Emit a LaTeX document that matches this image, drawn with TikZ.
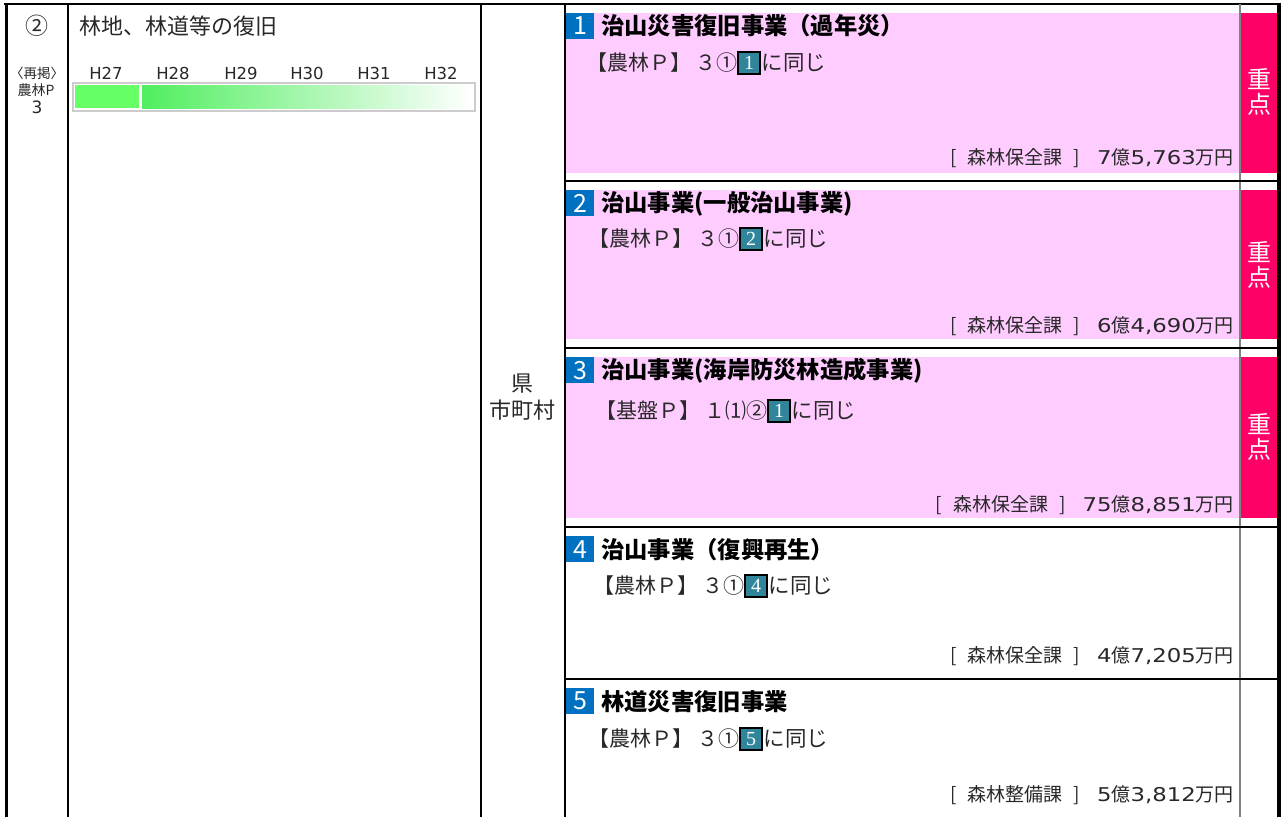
\documentclass[tikz,border=0pt]{standalone}
\usepackage{fontspec}
\usepackage{graphicx}
\setmainfont{Noto Sans CJK JP}
\newfontfamily\serifnum{Liberation Serif}
\newfontfamily\widesans{DejaVu Sans}
\newcommand\wdig[1]{\scalebox{1.2}[1]{\widesans #1}}
\definecolor{pinkbg}{RGB}{255,204,255}
\definecolor{redtab}{RGB}{255,0,102}
\definecolor{badgeblue}{RGB}{0,112,192}
\definecolor{boxteal}{RGB}{49,133,155}
\definecolor{barfill}{RGB}{102,255,102}
\definecolor{gradstart}{RGB}{80,238,95}
\definecolor{bodygray}{RGB}{40,40,40}
\definecolor{framegray}{RGB}{204,204,204}
\definecolor{tabline}{RGB}{130,130,130}
\tikzset{
  badge/.style={fill=badgeblue,text=white,minimum width=28pt,minimum height=26pt,inner sep=0pt,font=\fontsize{25}{25}\selectfont},
  titletext/.style={anchor=west,inner sep=0pt,font=\fontsize{23.3}{24}\selectfont\bfseries,text=black},
  bodytext/.style={anchor=east,inner sep=0pt,font=\fontsize{21}{21}\selectfont,text=bodygray},
  bodytail/.style={anchor=west,inner sep=0pt,font=\fontsize{21.5}{22}\selectfont,text=bodygray},
  refbox/.style={fill=boxteal,draw=black,line width=1.5pt,text=white,minimum width=22pt,minimum height=22pt,inner sep=0pt,font=\serifnum\fontsize{20}{20}\selectfont},
  costtext/.style={anchor=east,inner sep=0pt,font=\fontsize{19}{19}\selectfont,text=bodygray},
  tabchar/.style={inner sep=0pt,text=white,font=\fontsize{24}{24}\selectfont},
  yearlbl/.style={inner sep=0pt,font=\widesans\fontsize{16.5}{16.5}\selectfont,text=bodygray},
  smalltext/.style={inner sep=0pt,font=\fontsize{13.5}{14}\selectfont,text=bodygray},
  bigtext/.style={inner sep=0pt,font=\fontsize{22}{22}\selectfont,text=bodygray},
  rule/.style={line width=1.3pt,draw=black},
}
\newcommand\costline[2]{[\hspace{11pt}#1\hspace{11pt}]\hspace{17pt}#2}
\begin{document}
\begin{tikzpicture}[x=1pt,y=-1pt]
\useasboundingbox (0,0) rectangle (1284,817);
\fill[white] (0,0) rectangle (1284,817);

% pink and red backgrounds
\fill[pinkbg] (565,12.7) rectangle (1240,173);
\fill[redtab] (1241,12.7) rectangle (1277,173);
\fill[pinkbg] (565,190) rectangle (1240,339);
\fill[redtab] (1241,190) rectangle (1277,339);
\fill[pinkbg] (565,357) rectangle (1240,518);
\fill[redtab] (1241,357) rectangle (1277,518);

% frame lines
\draw[line width=2pt] (4,3.5) -- (1281,3.5);
\draw[line width=3pt] (6,3) -- (6,817);
\draw[line width=4pt] (1279,3) -- (1279,817);
\draw[line width=1.2pt] (68,3.5) -- (68,817);
\draw[line width=1.2pt] (481,3.5) -- (481,817);
\draw[line width=1.2pt] (565,3.5) -- (565,817);
\draw[line width=1.5pt,tabline] (1240,3.5) -- (1240,817);
\foreach \yy in {181,348,527,679} {
  \draw[rule] (565,\yy) -- (1277,\yy);
}

% left column
\node[inner sep=0pt,font=\fontsize{23}{23}\selectfont,text=bodygray] (num) at (37,26) {②};
\node[smalltext] (saikei) at (37,73) {〈再掲〉};
\node[smalltext,font=\fontsize{14}{14}\selectfont] (nourin) at (36,90) {農林P};
\node[smalltext,font=\widesans\fontsize{17}{17}\selectfont] (three) at (37,107) {3};

% second column
\node[anchor=west,inner sep=0pt,font=\fontsize{22}{22}\selectfont,text=bodygray] (maintitle) at (79,26) {林地、林道等の復旧};
\node[yearlbl] (h27) at (106,73) {H27};
\node[yearlbl] (h28) at (173,73) {H28};
\node[yearlbl] (h29) at (241,73) {H29};
\node[yearlbl] (h30) at (307,73) {H30};
\node[yearlbl] (h31) at (374,73) {H31};
\node[yearlbl] (h32) at (441,73) {H32};
\draw[framegray,line width=2pt,fill=white] (72.5,82.5) rectangle (474.5,110.5);
\fill[barfill] (75,85) rectangle (139,108);
\shade[left color=gradstart,right color=white] (142,85) rectangle (472,108);

% third column
\node[bigtext] (ken) at (522,384) {県};
\node[bigtext] (shichoson) at (522,410) {市町村};

% row 1
\node[badge,anchor=north west] (b1) at (566,12.7) {1};
\node[titletext] (t1) at (601,26) {治山災害復旧事業（過年災）};
\node[refbox] (r1) at (749,63) {1};
\node[bodytext] (p1) at (r1.west) {【農林Ｐ】\hspace{4pt}３①};
\node[bodytail] (q1) at ([xshift=1pt]r1.east) {に同じ};
\node[costtext] (c1) at (1234,158) {\costline{森林保全課}{\wdig{7}億\wdig{5,763}万円}};
\node[tabchar] (k1a) at (1259,79) {重};
\node[tabchar] (k1b) at (1259,104) {点};

% row 2
\node[badge,anchor=north west] (b2) at (566,190) {2};
\node[titletext] (t2) at (601,204) {治山事業(一般治山事業)};
\node[refbox] (r2) at (751,239) {2};
\node[bodytext] (p2) at (r2.west) {【農林Ｐ】\hspace{4pt}３①};
\node[bodytail] (q2) at ([xshift=1pt]r2.east) {に同じ};
\node[costtext] (c2) at (1234,326) {\costline{森林保全課}{\wdig{6}億\wdig{4,690}万円}};
\node[tabchar] (k2a) at (1259,252) {重};
\node[tabchar] (k2b) at (1259,277) {点};

% row 3
\node[badge,anchor=north west] (b3) at (566,357) {3};
\node[titletext] (t3) at (601,371) {治山事業(海岸防災林造成事業)};
\node[refbox] (r3) at (779,411) {1};
\node[bodytext] (p3) at (r3.west) {【基盤Ｐ】\hspace{4pt}１⑴②};
\node[bodytail] (q3) at ([xshift=1pt]r3.east) {に同じ};
\node[costtext] (c3) at (1234,505) {\costline{森林保全課}{\wdig{75}億\wdig{8,851}万円}};
\node[tabchar] (k3a) at (1259,424) {重};
\node[tabchar] (k3b) at (1259,449) {点};

% row 4
\node[badge,anchor=north west] (b4) at (566,536) {4};
\node[titletext] (t4) at (601,550) {治山事業（復興再生）};
\node[refbox] (r4) at (756,586) {4};
\node[bodytext] (p4) at (r4.west) {【農林Ｐ】\hspace{4pt}３①};
\node[bodytail] (q4) at ([xshift=1pt]r4.east) {に同じ};
\node[costtext] (c4) at (1234,656) {\costline{森林保全課}{\wdig{4}億\wdig{7,205}万円}};

% row 5
\node[badge,anchor=north west] (b5) at (566,688) {5};
\node[titletext] (t5) at (601,702) {林道災害復旧事業};
\node[refbox] (r5) at (751,739) {5};
\node[bodytext] (p5) at (r5.west) {【農林Ｐ】\hspace{4pt}３①};
\node[bodytail] (q5) at ([xshift=1pt]r5.east) {に同じ};
\node[costtext] (c5) at (1234,795) {\costline{森林整備課}{\wdig{5}億\wdig{3,812}万円}};
\end{tikzpicture}
\end{document}
